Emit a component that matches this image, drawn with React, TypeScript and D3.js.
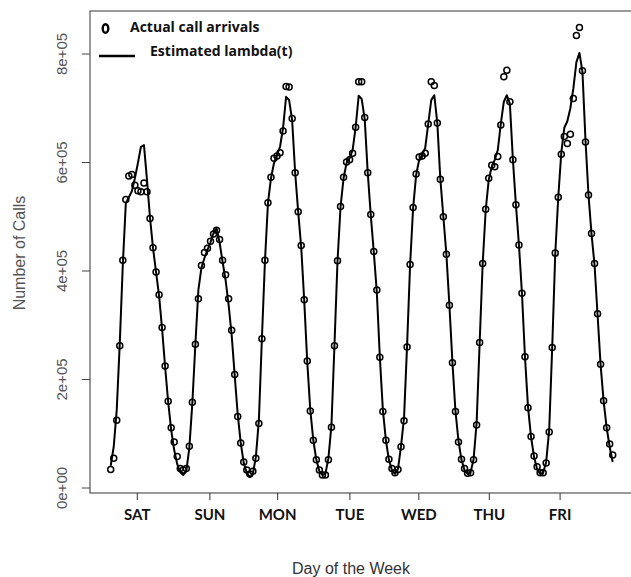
import React, { useRef, useEffect } from 'react';
import * as d3 from 'd3';

// hourly call arrivals over one week (thousands of calls)
const arrivals = [
  34, 55, 125, 262, 420, 532, 575, 578, 558, 548, 546, 562, 546, 497, 443, 398, 356, 296, 225, 160, 111, 85, 58, 36,
  33, 36, 77, 158, 265, 349, 410, 434, 442, 455, 468, 475, 458, 420, 393, 349, 291, 209, 132, 83, 48, 33, 26, 31,
  55, 119, 275, 420, 526, 573, 608, 612, 618, 658, 740, 739, 681, 581, 509, 447, 347, 234, 142, 88, 52, 33, 24, 24,
  52, 112, 262, 419, 519, 573, 601, 605, 617, 665, 749, 749, 683, 581, 504, 436, 365, 241, 141, 88, 53, 36, 28, 34,
  76, 124, 260, 412, 517, 579, 610, 612, 617, 671, 749, 742, 673, 569, 500, 431, 337, 231, 141, 85, 53, 36, 27, 28,
  52, 116, 268, 414, 514, 571, 595, 592, 611, 669, 758, 770, 712, 605, 522, 448, 359, 242, 148, 95, 59, 39, 28, 28,
  46, 103, 259, 433, 536, 615, 648, 635, 652, 718, 834, 849, 769, 638, 540, 469, 414, 321, 228, 161, 111, 81, 61,
];

// estimated lambda(t) at the same hours (thousands)
const lambdaHat = [
  41, 76, 144, 267, 411, 525, 536, 547, 571, 599, 629, 632, 568, 498, 442, 398, 354, 293, 223, 159, 107, 70, 44, 29,
  24, 31, 74, 157, 265, 365, 406, 424, 439, 453, 470, 479, 453, 417, 383, 337, 282, 208, 136, 83, 46, 28, 20, 26,
  57, 125, 276, 417, 525, 571, 599, 614, 629, 664, 721, 715, 678, 581, 509, 444, 345, 232, 144, 88, 52, 31, 24, 26,
  55, 116, 264, 418, 518, 571, 599, 608, 623, 665, 723, 717, 680, 581, 503, 435, 361, 241, 144, 88, 52, 33, 26, 35,
  77, 129, 262, 411, 516, 577, 605, 614, 627, 671, 715, 724, 673, 570, 500, 431, 337, 232, 142, 87, 52, 33, 26, 29,
  53, 120, 267, 413, 512, 568, 592, 605, 623, 671, 712, 724, 708, 605, 522, 448, 358, 241, 149, 94, 57, 35, 26, 28,
  48, 107, 260, 431, 536, 618, 664, 676, 700, 737, 785, 802, 767, 641, 540, 468, 411, 319, 227, 160, 111, 76, 48,
];

const dayLabels = ['SAT', 'SUN', 'MON', 'TUE', 'WED', 'THU', 'FRI'];
const dayTickHours = [8.8, 32.8, 55.2, 79.1, 101.9, 125.2, 148.6];

const yTickValues = [0, 200, 400, 600, 800];
const yTickLabels = ['0e+00', '2e+05', '4e+05', '6e+05', '8e+05'];

const W = 631;
const H = 577;
const box = { left: 90, right: 633, top: 11, bottom: 493 };

const CallChart = () => {
  const svgRef = useRef<SVGSVGElement>(null);

  useEffect(() => {
    const svg = d3.select(svgRef.current);
    svg.selectAll('*').remove();

    const x = d3.scaleLinear().domain([0, arrivals.length - 1]).range([110.7, 612.7]);
    const y = d3.scaleLinear().domain([0, 800]).range([488, 54]);

    // plot frame
    svg
      .append('rect')
      .attr('x', box.left)
      .attr('y', box.top)
      .attr('width', box.right - box.left)
      .attr('height', box.bottom - box.top)
      .attr('fill', 'none')
      .attr('stroke', '#555')
      .attr('stroke-width', 1.2);

    // y axis (rotated labels like R's default)
    const yAxis = svg.append('g');
    yTickValues.forEach((v, i) => {
      yAxis
        .append('line')
        .attr('x1', box.left - 8)
        .attr('x2', box.left)
        .attr('y1', y(v))
        .attr('y2', y(v))
        .attr('stroke', '#444')
        .attr('stroke-width', 1);
      yAxis
        .append('text')
        .attr('transform', `translate(67,${y(v)}) rotate(-90)`)
        .attr('text-anchor', 'middle')
        .attr('font-family', 'Liberation Sans, Arial, sans-serif')
        .attr('font-size', 15)
        .attr('fill', '#555')
        .text(yTickLabels[i]);
    });

    svg
      .append('text')
      .attr('transform', `translate(25,253) rotate(-90)`)
      .attr('text-anchor', 'middle')
      .attr('font-family', 'Liberation Sans, Arial, sans-serif')
      .attr('font-size', 16)
      .attr('fill', '#555')
      .text('Number of Calls');

    // x axis with day labels
    const xAxis = svg.append('g');
    dayTickHours.forEach((h, i) => {
      xAxis
        .append('line')
        .attr('x1', x(h))
        .attr('x2', x(h))
        .attr('y1', box.bottom)
        .attr('y2', box.bottom + 7)
        .attr('stroke', '#333')
        .attr('stroke-width', 1);
      xAxis
        .append('text')
        .attr('x', x(h))
        .attr('y', 520)
        .attr('text-anchor', 'middle')
        .attr('font-family', 'Lato, Open Sans, sans-serif')
        .attr('font-weight', 'bold')
        .attr('font-size', 15)
        .attr('fill', '#111')
        .text(dayLabels[i]);
    });

    svg
      .append('text')
      .attr('x', 351)
      .attr('y', 574)
      .attr('text-anchor', 'middle')
      .attr('font-family', 'Liberation Sans, Arial, sans-serif')
      .attr('font-size', 16)
      .attr('fill', '#333')
      .text('Day of the Week');

    // estimated intensity line
    const line = d3
      .line<number>()
      .x((d, i) => x(i))
      .y((d) => y(d));

    svg
      .append('path')
      .datum(lambdaHat)
      .attr('fill', 'none')
      .attr('stroke', '#000')
      .attr('stroke-width', 2)
      .attr('stroke-linejoin', 'round')
      .attr('d', line);

    // actual arrivals as open circles
    svg
      .append('g')
      .selectAll('circle')
      .data(arrivals)
      .join('circle')
      .attr('cx', (d, i) => x(i))
      .attr('cy', (d) => y(d))
      .attr('r', 3)
      .attr('fill', 'none')
      .attr('stroke', '#000')
      .attr('stroke-width', 1.5);

    // legend
    const legend = svg.append('g');
    legend
      .append('ellipse')
      .attr('cx', 105.5)
      .attr('cy', 28.5)
      .attr('rx', 2.8)
      .attr('ry', 4.3)
      .attr('fill', 'none')
      .attr('stroke', '#000')
      .attr('stroke-width', 2.4);
    legend
      .append('text')
      .attr('x', 130)
      .attr('y', 32)
      .attr('font-family', 'Open Sans, sans-serif')
      .attr('font-weight', 'bold')
      .attr('font-size', 14)
      .attr('fill', '#111')
      .text('Actual call arrivals');
    legend
      .append('line')
      .attr('x1', 99)
      .attr('x2', 135)
      .attr('y1', 56)
      .attr('y2', 56)
      .attr('stroke', '#000')
      .attr('stroke-width', 2.5);
    legend
      .append('text')
      .attr('x', 150)
      .attr('y', 56)
      .attr('font-family', 'Open Sans, sans-serif')
      .attr('font-weight', 'bold')
      .attr('font-size', 14)
      .attr('fill', '#111')
      .text('Estimated lambda(t)');
  }, []);

  return (
    <svg
      ref={svgRef}
      width={W}
      height={H}
      style={{ position: 'absolute', left: 0, top: 0, background: '#fff' }}
    ></svg>
  );
};

export default function App() {
  return <CallChart />;
}
